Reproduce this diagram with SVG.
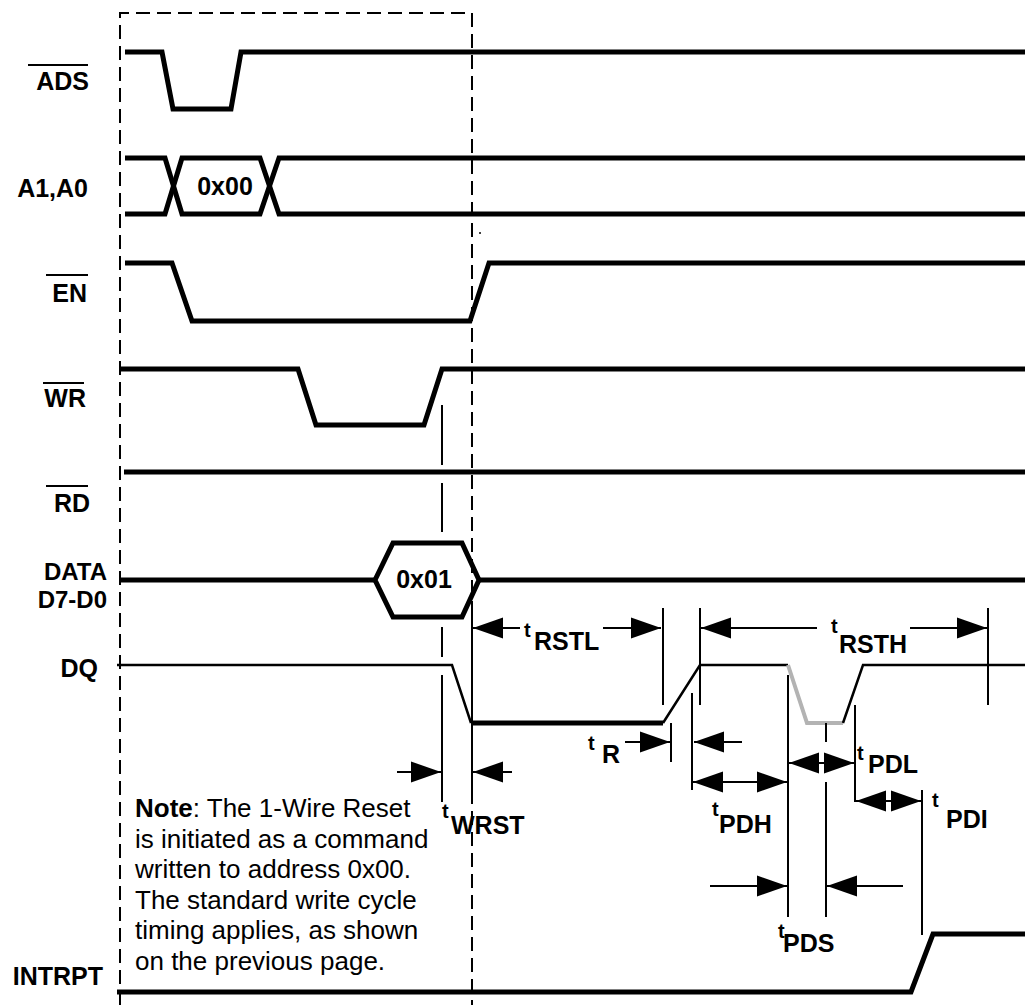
<svg xmlns="http://www.w3.org/2000/svg" width="1025" height="1005" viewBox="0 0 1025 1005">
<defs>
<style>
.sig{fill:none;stroke:#000;stroke-width:5;stroke-linejoin:miter}
.thin{fill:none;stroke:#000;stroke-width:2.5}
.gray{fill:none;stroke:#b3b3b3;stroke-width:4}
.dash{fill:none;stroke:#000;stroke-width:2;stroke-dasharray:14 7}
.tick{fill:none;stroke:#000;stroke-width:2}
.arr{fill:none;stroke:#000;stroke-width:2;marker-end:url(#ah)}
.arr2{fill:none;stroke:#000;stroke-width:2;marker-start:url(#ah);marker-end:url(#ah)}
.ovl{stroke:#000;stroke-width:2}
text{font-family:"Liberation Sans",Arial,sans-serif;fill:#000}
.lbl{font-size:25px;font-weight:bold;text-anchor:end}
.lbs{font-size:24px;font-weight:bold;text-anchor:end}
.val{font-size:25px;font-weight:bold;text-anchor:middle}
.note{font-size:26px}
.ts{font-size:20px;font-weight:bold}
.tl{font-size:25px;font-weight:bold}
</style>
<marker id="ah" viewBox="0 -11 30 22" refX="30" refY="0" markerWidth="30" markerHeight="22" markerUnits="userSpaceOnUse" orient="auto-start-reverse">
<path d="M0,-10.5 L30,0 L0,10.5 z" fill="#000"/>
</marker>
</defs>
<rect width="1025" height="1005" fill="#fff"/>

<g id="frame">
<path class="dash" d="M120,1005 V13 H472 V1005"/>
<circle cx="480" cy="233" r="1" fill="#000"/>
</g>

<g id="ADS">
<text class="lbl" x="89" y="90">ADS</text>
<line class="ovl" x1="28" y1="65" x2="88" y2="65"/>
<path class="sig" d="M125,52 H162 L173,109 H231 L241,52 H1025"/>
</g>

<g id="A1A0">
<text class="lbl" x="88" y="197">A1,A0</text>
<path class="sig" d="M125,158 H165 L182,214 H260 L279,158 H1025"/>
<path class="sig" d="M125,214 H165 L182,158 H260 L279,214 H1025"/>
<text class="val" x="225" y="195">0x00</text>
</g>

<g id="EN">
<text class="lbl" x="87" y="302">EN</text>
<line class="ovl" x1="46" y1="275" x2="88" y2="275"/>
<path class="sig" d="M125,263 H172 L192,321 H470 L489,263 H1025"/>
</g>

<g id="WR">
<text class="lbl" x="86" y="407">WR</text>
<line class="ovl" x1="43" y1="383" x2="84" y2="383"/>
<path class="sig" d="M120,369 H298 L316,425 H424 L442,369 H1025"/>
</g>

<g id="RD">
<text class="lbl" x="90" y="512">RD</text>
<line class="ovl" x1="46" y1="486" x2="88" y2="486"/>
<path class="sig" d="M124,472 H1025"/>
</g>

<g id="DATA">
<text class="lbs" x="107" y="580">DATA</text>
<text class="lbs" x="107" y="608">D7-D0</text>
<path class="sig" d="M120,580 H375 M479,580 H1025"/>
<path class="sig" d="M375,580 L393,543 H462 L479,580 L462,617 H393 Z"/>
<text class="val" x="424" y="588">0x01</text>
</g>

<g id="DQ">
<text class="lbl" x="98" y="677">DQ</text>
<path class="thin" d="M117,665 H452 L471,723"/>
<path class="sig" d="M471,723 H663"/>
<path class="thin" d="M663,723 L700,665 H788"/>
<path class="gray" d="M788,665 L807,723 H843"/>
<path class="thin" d="M843,723 L863,665 H1025"/>
</g>

<g id="INTRPT">
<text class="lbl" x="103" y="985">INTRPT</text>
<path class="sig" d="M117,992 H911 L933,934 H1025"/>
</g>

<g id="note">
<text class="note" x="135" y="817"><tspan font-weight="bold">Note</tspan>: The 1-Wire Reset</text>
<text class="note" x="135" y="847.6">is initiated as a command</text>
<text class="note" x="135" y="878.2">written to address 0x00.</text>
<text class="note" x="135" y="908.8">The standard write cycle</text>
<text class="note" x="135" y="939.4">timing applies, as shown</text>
<text class="note" x="135" y="970">on the previous page.</text>
</g>

<g id="connectors">
<path class="tick" d="M442,405 V465 M442,483 V532 M442,627 V657 M442,675 V802"/>
<path class="tick" d="M472,608 V802"/>
<path class="tick" d="M663,608 V705"/>
<path class="tick" d="M700,608 V705"/>
<path class="tick" d="M988,608 V705"/>
<path class="tick" d="M671,723 V762"/>
<path class="tick" d="M692,693 V790"/>
<path class="tick" d="M788,675 V917"/>
<path class="tick" d="M826,723 V742 M826,782 V917"/>
<path class="tick" d="M855,705 V802"/>
<path class="tick" d="M922,790 V935"/>

<line class="arr" x1="520" y1="628" x2="473" y2="628"/>
<line class="arr" x1="603" y1="628" x2="661" y2="628"/>
<line class="arr" x1="817" y1="628" x2="701" y2="628"/>
<line class="arr" x1="910" y1="628" x2="987" y2="628"/>
<line class="arr" x1="625" y1="742" x2="670" y2="742"/>
<line class="arr" x1="742" y1="742" x2="694" y2="742"/>
<line class="arr2" x1="693" y1="782" x2="787" y2="782"/>
<line class="arr2" x1="789" y1="763" x2="854" y2="763"/>
<line class="arr2" x1="856" y1="801" x2="921" y2="801"/>
<line class="arr" x1="397" y1="772" x2="441" y2="772"/>
<line class="arr" x1="512" y1="772" x2="473" y2="772"/>
<line class="arr" x1="710" y1="886" x2="787" y2="886"/>
<line class="arr" x1="903" y1="886" x2="827" y2="886"/>
</g>

<g id="timing-labels">
<text><tspan class="ts" x="524" y="637">t</tspan><tspan class="tl" x="534" y="650">RSTL</tspan></text>
<text><tspan class="ts" x="831" y="633">t</tspan><tspan class="tl" x="839" y="653">RSTH</tspan></text>
<text><tspan class="ts" x="588" y="750">t</tspan><tspan class="tl" x="602" y="763">R</tspan></text>
<text><tspan class="ts" x="712" y="816">t</tspan><tspan class="tl" x="719" y="833">PDH</tspan></text>
<text><tspan class="ts" x="857" y="760">t</tspan><tspan class="tl" x="868" y="773">PDL</tspan></text>
<text><tspan class="ts" x="932" y="807">t</tspan><tspan class="tl" x="946" y="828">PDI</tspan></text>
<text><tspan class="ts" x="778" y="938">t</tspan><tspan class="tl" x="783" y="952">PDS</tspan></text>
<text><tspan class="ts" x="442" y="818">t</tspan><tspan class="tl" x="451" y="834">WRST</tspan></text>
</g>
</svg>
